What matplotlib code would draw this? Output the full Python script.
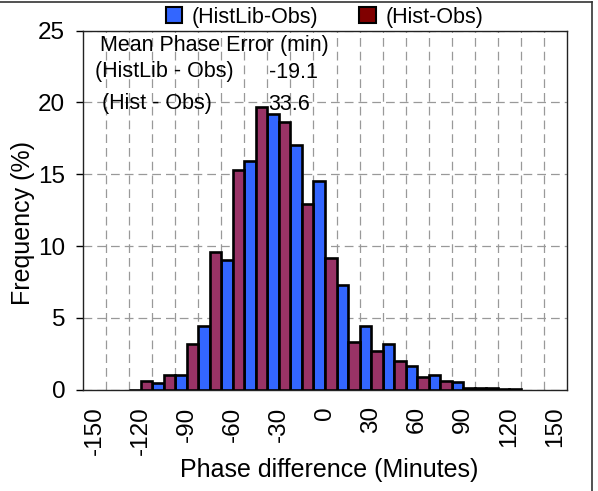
import matplotlib
matplotlib.use("Agg")
import matplotlib.pyplot as plt
from matplotlib.patches import Patch
from matplotlib.lines import Line2D
import numpy as np

plt.rcParams['font.family'] = ['Liberation Sans', 'DejaVu Sans']

# Categories (bin centres, minutes)
categories = [-150, -135, -120, -105, -90, -75, -60, -45, -30, -15, 0,
              15, 30, 45, 60, 75, 90, 105, 120, 135, 150]
tick_labels = ["-150", "-120", "-90", "-60", "-30", "0", "30", "60", "90", "120", "150"]

# Bins that carry data
bins = [-120, -105, -90, -75, -60, -45, -30, -15, 0, 15, 30, 45, 60, 75, 90, 105, 120]
histlib_obs = [0.0, 0.45, 1.05, 4.4, 9.0, 15.95, 19.2, 17.0, 14.5, 7.3, 4.45,
               3.2, 1.65, 1.0, 0.55, 0.12, 0.05]
hist_obs = [0.6, 1.05, 3.2, 9.6, 15.3, 19.65, 18.65, 12.9, 9.2, 3.3, 2.7,
            2.0, 0.9, 0.6, 0.15, 0.12, 0.08]

mean_histlib = "-19.1"
mean_hist = "33.6"

W, H = 598, 491
fig = plt.figure(figsize=(W / 100, H / 100), dpi=100)
ax = fig.add_axes([83.3 / W, 1 - 389.7 / H, (566.7 - 83.3) / W, (389.7 - 30.5) / H])

blue = "#3366FF"
maroon = "#993366"

idx = np.array([categories.index(b) for b in bins])
ax.bar(idx - 0.25, histlib_obs, width=0.5, color=blue, edgecolor="black", linewidth=1.9, zorder=3)
ax.bar(idx + 0.25, hist_obs, width=0.5, color=maroon, edgecolor="black", linewidth=1.9, zorder=3)

ax.set_xlim(-0.5, len(categories) - 0.5)
ax.set_ylim(0, 25)

# ticks
ax.set_xticks(range(0, len(categories), 2))
ax.set_xticklabels(tick_labels, rotation=90, fontsize=17.5)
ax.tick_params(axis="x", length=0, pad=12)
ax.set_xticks(np.arange(0.5, len(categories) - 0.5, 1), minor=True)
ax.tick_params(axis="x", which="minor", length=0)
ax.set_yticks([0, 5, 10, 15, 20, 25])
ax.tick_params(axis="y", length=5, width=1, direction="out", labelsize=17.5, pad=8)

# grid
ax.grid(True, axis="x", which="minor", linestyle=(0, (7, 4)), color="#999999", linewidth=0.9, zorder=0)
ax.grid(True, axis="y", which="major", linestyle=(0, (7, 4)), color="#999999", linewidth=0.9, zorder=0)
ax.grid(False, axis="x", which="major")
ax.set_axisbelow(True)

for s in ax.spines.values():
    s.set_linewidth(1.0)
    s.set_color("#222222")

ax.set_xlabel("Phase difference (Minutes)", fontsize=18)
ax.xaxis.set_label_coords(0.509, -0.19)
ax.xaxis.label.set_va("top")
ax.set_ylabel("Frequency (%)", fontsize=18)
ax.yaxis.set_label_coords(-0.1, 0.465)

# annotations
fs = 15.5
fig.text(100 / W, 1 - 46 / H, "Mean Phase Error (min)", fontsize=fs, va="center", ha="left")
fig.text(95 / W, 1 - 72 / H, "(HistLib - Obs)", fontsize=fs, va="center", ha="left")
fig.text(269 / W, 1 - 72 / H, mean_histlib, fontsize=fs, va="center", ha="left")
fig.text(102 / W, 1 - 104 / H, "(Hist - Obs)", fontsize=fs, va="center", ha="left")
fig.text(268 / W, 1 - 104 / H, mean_hist, fontsize=fs, va="center", ha="left")

# legend
handles = [Patch(facecolor=blue, edgecolor="black", linewidth=1.5, label="(HistLib-Obs)"),
           Patch(facecolor="#800000", edgecolor="black", linewidth=1.5, label="(Hist-Obs)")]
fig.legend(handles=handles, loc="center left", bbox_to_anchor=(166 / W, 1 - 17 / H),
           ncol=2, frameon=False, fontsize=15.5, handlelength=0.75, handleheight=0.75,
           handletextpad=0.45, columnspacing=1.9, borderpad=0, borderaxespad=0)

# outer frame lines (top and right)
fig.add_artist(Line2D([0, 592 / W], [1 - 1.5 / H, 1 - 1.5 / H], transform=fig.transFigure, color="#333333", lw=1.2))
fig.add_artist(Line2D([592 / W, 592 / W], [0, 1 - 1.5 / H], transform=fig.transFigure, color="#333333", lw=1.2))

fig.savefig("out.png", dpi=100)
